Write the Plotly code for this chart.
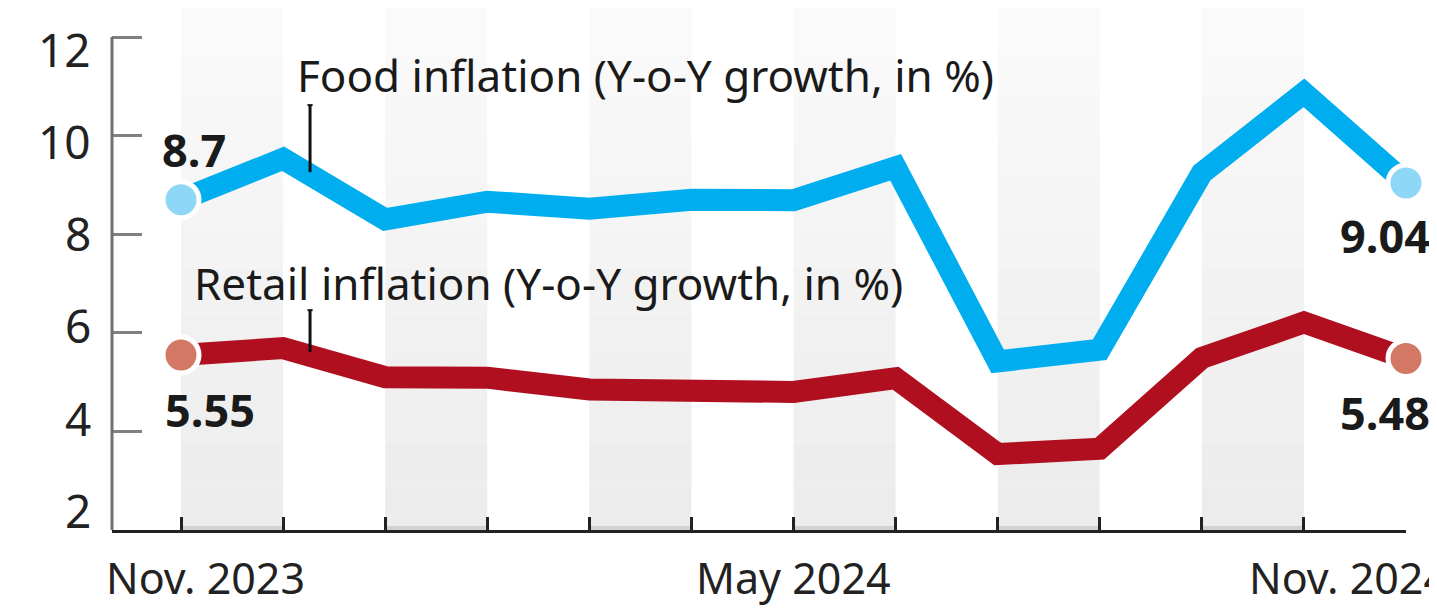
import plotly.graph_objects as go

months = ["Nov. 2023", "Dec. 2023", "Jan. 2024", "Feb. 2024", "Mar. 2024", "Apr. 2024",
          "May 2024", "Jun. 2024", "Jul. 2024", "Aug. 2024", "Sep. 2024", "Oct. 2024", "Nov. 2024"]
food = [8.70, 9.53, 8.30, 8.66, 8.52, 8.70, 8.69, 9.36, 5.42, 5.66, 9.24, 10.87, 9.04]
retail = [5.55, 5.69, 5.10, 5.09, 4.85, 4.83, 4.80, 5.08, 3.54, 3.65, 5.49, 6.21, 5.48]
y_ticks = [2, 4, 6, 8, 10, 12]
x_label_idx = [0, 6, 12]

FONT = "Noto Sans"
FOOD_C = "#00aeef"
RETAIL_C = "#b00f1f"
x = list(range(len(months)))

fig = go.Figure()

shapes = []
ytop, ybot = 12.59, 2
n = 12
for i in range(0, len(months) - 1, 2):
    for k in range(n):
        t = k / (n - 1)
        c = int(round(250 - t * 14))
        y1 = ytop - (ytop - ybot) * k / n
        y0 = ytop - (ytop - ybot) * (k + 1) / n
        shapes.append(dict(type="rect", xref="x", yref="y", x0=i, x1=i + 1, y0=y0, y1=y1,
                           fillcolor=f"rgb({c},{c},{c})", line_width=0, layer="below"))
    shapes.append(dict(type="rect", xref="x", yref="y", x0=i, x1=i + 1, y0=0, y1=4,
                       ysizemode="pixel", yanchor=ybot, fillcolor="rgb(210,210,210)",
                       line_width=0, layer="below"))

# y axis line
shapes.append(dict(type="line", xref="paper", yref="y", x0=0, x1=0, y0=2, y1=12,
                   line=dict(color="#707070", width=3)))
# major x ticks below axis
for j in x_label_idx:
    shapes.append(dict(type="line", xref="x", yref="y", x0=j, x1=j, y0=0, y1=-17,
                       ysizemode="pixel", yanchor=2,
                       line=dict(color="#222" if j == len(months) - 1 else "#888", width=3)))

# pointer lines
px = 1.264
for (ya, yb) in [(10.62, 9.26), (6.46, 5.61)]:
    shapes.append(dict(type="line", xref="x", yref="y", x0=px, x1=px, y0=ya, y1=yb,
                       line=dict(color="#111", width=3)))
    shapes.append(dict(type="line", xref="x", yref="y", x0=px - 0.025, x1=px + 0.025, y0=ya, y1=ya,
                       line=dict(color="#111", width=2)))

fig.add_trace(go.Scatter(x=x, y=food, mode="lines", line=dict(color=FOOD_C, width=22),
                         hoverinfo="skip", showlegend=False))
fig.add_trace(go.Scatter(x=x, y=retail, mode="lines", line=dict(color=RETAIL_C, width=22),
                         hoverinfo="skip", showlegend=False))
fig.add_trace(go.Scatter(x=[x[0], x[-1]], y=[food[0], food[-1]], mode="markers",
                         marker=dict(size=36, color="#8fd7f7", line=dict(color="white", width=5)),
                         cliponaxis=False, hoverinfo="skip", showlegend=False))
fig.add_trace(go.Scatter(x=[x[0], x[-1]], y=[retail[0], retail[-1]], mode="markers",
                         marker=dict(size=36, color="#d47866", line=dict(color="white", width=5)),
                         cliponaxis=False, hoverinfo="skip", showlegend=False))

ann = []
txt = dict(family=FONT, size=44, color="#1a1a1a")
bold = dict(family=FONT, size=45, color="#1a1a1a", weight="bold")
ann.append(dict(x=1.117, y=11.23, xref="x", yref="y", text="Food inflation (Y-o-Y growth, in %)",
                showarrow=False, xanchor="left", yanchor="middle", font=txt))
ann.append(dict(x=0.108, y=7.01, xref="x", yref="y", text="Retail inflation (Y-o-Y growth, in %)",
                showarrow=False, xanchor="left", yanchor="middle", font=txt))
ann.append(dict(x=x[0], y=food[0], text=f"{food[0]:g}", showarrow=False, xshift=13, yshift=50,
                xanchor="center", yanchor="middle", font=bold))
ann.append(dict(x=x[0], y=retail[0], text=f"{retail[0]:.2f}", showarrow=False, xshift=29, yshift=-54,
                xanchor="center", yanchor="middle", font=bold))
ann.append(dict(x=x[-1], y=food[-1], text=f"{food[-1]:.2f}", showarrow=False, xshift=-21, yshift=-53,
                xanchor="center", yanchor="middle", font=bold))
ann.append(dict(x=x[-1], y=retail[-1], text=f"{retail[-1]:.2f}", showarrow=False, xshift=-21, yshift=-54,
                xanchor="center", yanchor="middle", font=bold))
xshifts = {0: 24, 6: 0, 12: -58}
for j in x_label_idx:
    ann.append(dict(x=j, y=0, xref="x", yref="paper", text=months[j], showarrow=False,
                    xanchor="center", yanchor="middle", yshift=-47, xshift=xshifts[j],
                    font=dict(family=FONT, size=43, color="#222")))
# y tick labels
for v in y_ticks:
    ann.append(dict(x=0, y=v, xref="paper", yref="y", text=str(v), showarrow=False,
                    xanchor="right", yanchor="middle", xshift=-19, yshift=1 - (v - 8) * 3.2,
                    font=dict(family=FONT, size=46, color="#222")))

fig.update_layout(
    width=1437, height=610,
    margin=dict(l=104, r=39, t=0, b=88),
    paper_bgcolor="white", plot_bgcolor="white",
    shapes=shapes, annotations=ann,
    xaxis=dict(range=[-0.676, 12], tickvals=x, ticktext=[""] * len(x), ticks="inside",
               ticklen=13, tickwidth=3, tickcolor="#222", showline=True, linecolor="#222",
               linewidth=3, showgrid=False, zeroline=False, fixedrange=True),
    yaxis=dict(range=[2, ytop], tickvals=y_ticks, ticktext=[""] * len(y_ticks),
               ticks="inside", ticklen=30, tickwidth=3, tickcolor="#808080", showline=False,
               showgrid=False, zeroline=False, fixedrange=True),
)

fig.write_html("out.html")
